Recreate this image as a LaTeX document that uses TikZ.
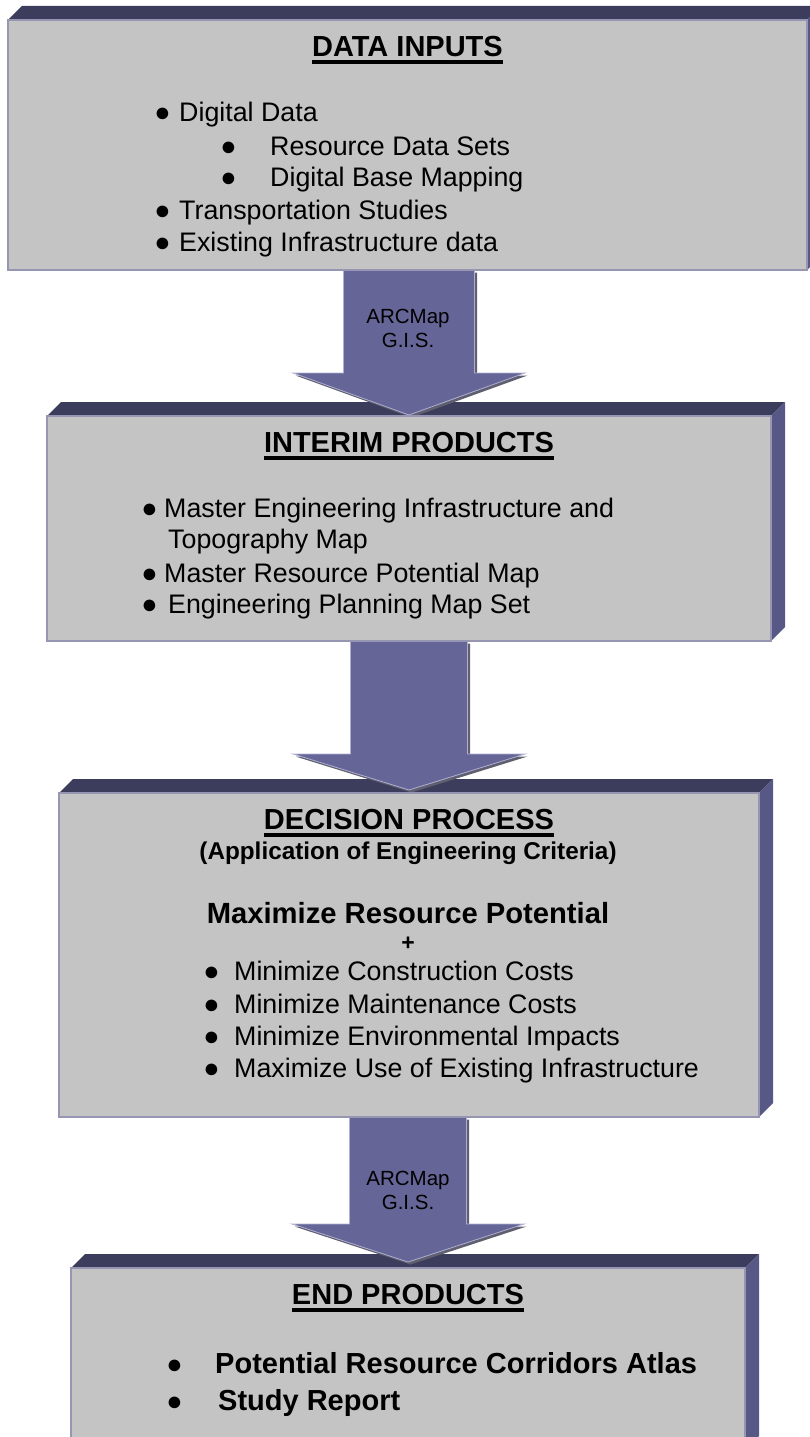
\documentclass[tikz,border=0pt]{standalone}
\usepackage{fontspec}
\setmainfont{Liberation Sans}
\usetikzlibrary{positioning,calc,shadows,backgrounds}

\definecolor{panelgray}{RGB}{196,196,196}
\definecolor{paneledge}{RGB}{150,150,178}
\definecolor{bevtop}{RGB}{60,60,92}
\definecolor{bevside}{RGB}{88,88,135}
\definecolor{arrowfill}{RGB}{101,101,152}
\definecolor{arrowedge}{RGB}{175,175,210}
\definecolor{arrowshade}{RGB}{95,95,112}

\newcommand{\bul}[1]{\llap{{\fontsize{27}{27}\selectfont ●}\hspace{#1}}}
\newcommand{\heading}[1]{\setbox0\hbox{#1}\rlap{\copy0}\rule[-7pt]{\wd0}{3.5pt}}

\begin{document}
\begin{tikzpicture}[x=1pt, y=-1pt,
    face/.style={draw=paneledge, line width=2.5pt, fill=panelgray, inner sep=0pt, outer sep=0pt},
    headtext/.style={inner sep=0pt, font=\fontsize{29}{34}\selectfont\bfseries},
    item/.style={anchor=base west, inner sep=0pt, font=\fontsize{26.8}{32}\selectfont},
    bolditem/.style={item, font=\fontsize{29}{34}\selectfont\bfseries},
    tool/.style={anchor=north, inner sep=0pt, align=center, font=\fontsize{20.5}{24}\selectfont},
    bigarrow/.style={fill=arrowfill, draw=arrowedge, line width=0.8pt,
        drop shadow={shadow xshift=2.5pt, shadow yshift=-2.5pt, fill=arrowshade, opacity=1}}]

        \useasboundingbox (0,0) rectangle (810,1437);

        % Data inputs
        \coordinate (inputsC) at (407.5,145);
        \node[face, minimum width=799pt, minimum height=250pt] (inputs) at (inputsC) {};
        \node[headtext, below=16.5pt of inputs.north] (inputsTitle) {\heading{DATA INPUTS}};
        \node[item] (in1) at (179,121.5) {\bul{8.4pt}Digital Data};
        \node[item] (in2) at (270,155) {\bul{33.4pt}Resource Data Sets};
        \node[item] (in3) at (270,186) {\bul{33.4pt}Digital Base Mapping};
        \node[item] (in4) at (179,219) {\bul{8.4pt}Transportation Studies};
        \node[item] (in5) at (179,251) {\bul{8.4pt}Existing Infrastructure data};

        % Interim products
        \coordinate (interimC) at (409,528.5);
        \node[face, minimum width=724pt, minimum height=225pt] (interim) at (interimC) {};
        \node[headtext, below=16.5pt of interim.north] (interimTitle) {\heading{INTERIM PRODUCTS}};
        \node[item] (im1) at (164,517) {\bul{6.4pt}Master Engineering Infrastructure and};
        \node[item] (im2) at (168,548) {Topography Map};
        \node[item] (im3) at (164,582) {\bul{6.4pt}Master Resource Potential Map};
        \node[item] (im4) at (168,613) {\bul{10.4pt}Engineering Planning Map Set};

        % Decision process
        \coordinate (decisionC) at (409,955);
        \node[face, minimum width=700pt, minimum height=324pt] (decision) at (decisionC) {};
        \node[headtext, below=16.5pt of decision.north] (decisionTitle) {\heading{DECISION PROCESS}};
        \node[anchor=base, inner sep=0pt, font=\fontsize{24.3}{28}\selectfont\bfseries] (criteria) at (408,859) {(Application of Engineering Criteria)};
        \node[anchor=base, inner sep=0pt, font=\fontsize{29.2}{34}\selectfont\bfseries] (maxres) at (408,923) {Maximize Resource Potential};
        \node[anchor=base, inner sep=0pt, font=\fontsize{23}{26}\selectfont\bfseries] (plus) at (408,950) {+};
        \node[item] (d1) at (234,980) {\bul{14.4pt}Minimize Construction Costs};
        \node[item] (d2) at (234,1013) {\bul{14.4pt}Minimize Maintenance Costs};
        \node[item] (d3) at (234,1045) {\bul{14.4pt}Minimize Environmental Impacts};
        \node[item] (d4) at (234,1077) {\bul{14.4pt}Maximize Use of Existing Infrastructure};

        % End products
        \coordinate (endprodC) at (408,1359);
        \node[face, minimum width=674pt, minimum height=182pt] (endprod) at (endprodC) {};
        \node[headtext, below=16.5pt of endprod.north] (endprodTitle) {\heading{END PRODUCTS}};
        \node[bolditem] (e1) at (215,1373) {\bul{32.4pt}Potential Resource Corridors Atlas};
        \node[bolditem] (e2) at (218,1410) {\bul{35.4pt}Study Report};

        % Tool labels
        \node[tool] (tool1) at (408,309.3) {ARCMap\\G.I.S.};
        \node[tool] (tool3) at (408,1171.3) {ARCMap\\G.I.S.};

        \begin{scope}[on background layer]
            % Bevels
            \foreach \b in {inputs,interim,decision,endprod} {
                \fill[bevtop] (\b.north west) -- ++(14,-14) -- ($(\b.north east)+(14,-14)$) -- (\b.north east) -- cycle;
                \fill[bevside] (\b.north east) -- ++(14,-14) -- ($(\b.south east)+(14,-14)$) -- (\b.south east) -- cycle;
            }

            % Arrows
            \foreach \src/\dst/\shaft/\len/\lift in {inputs/interim/65.5/42/1, interim/decision/58.5/36/3, decision/endprod/58.5/38/6} {
                \coordinate (tip) at ($(\dst.north)+(0,-\lift)$);
                \draw[bigarrow] ($(\src.south -| tip)+(-\shaft,0)$) -- ($(tip)+(-\shaft,-\len)$) -- ($(tip)+(-116,-\len)$)
                    -- (tip) -- ($(tip)+(116,-\len)$) -- ($(tip)+(\shaft,-\len)$) -- ($(\src.south -| tip)+(\shaft,0)$) -- cycle;
            }
        \end{scope}

    \end{tikzpicture}
\end{document}
